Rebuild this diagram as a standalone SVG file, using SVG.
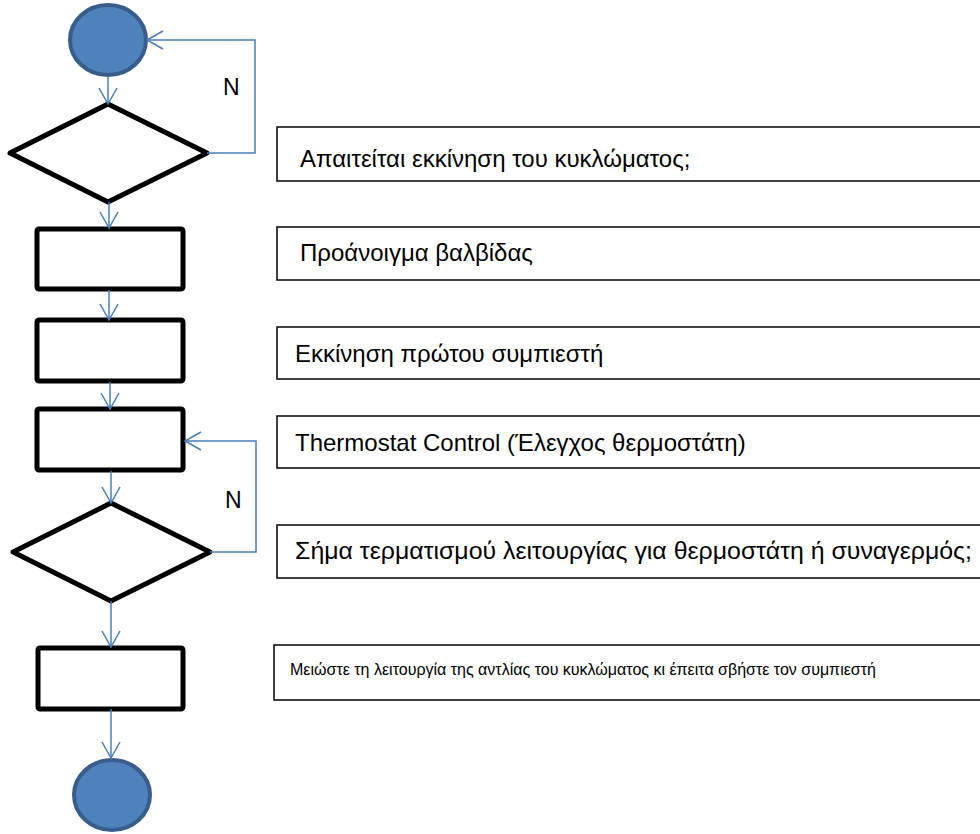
<svg xmlns="http://www.w3.org/2000/svg" width="980" height="834" viewBox="0 0 980 834">
  <style>
    .terminal { fill: #4f81bd; stroke: #385d8a; stroke-width: 4; }
    .step { fill: #ffffff; stroke: #000000; stroke-width: 5; stroke-linejoin: round; }
    .note { fill: #ffffff; stroke: #000000; stroke-width: 1.5; }
    .label { font-family: "Liberation Sans", Arial, sans-serif; fill: #000000; }
    .flow { fill: none; stroke: #4a7ebb; stroke-width: 1.5; marker-end: url(#open); }
  </style>
  <defs>
    <marker id="open" viewBox="0 0 20 20" refX="18" refY="10" markerWidth="20" markerHeight="20" markerUnits="userSpaceOnUse" orient="auto">
      <path d="M2,1 L18,10 L2,19" fill="none" stroke="#4a7ebb" stroke-width="1.5"/>
    </marker>
  </defs>

  <rect width="980" height="834" fill="#ffffff"/>

  <!-- flow column -->
  <g id="start"><ellipse class="terminal" cx="108" cy="40" rx="38" ry="35"/></g>
  <g id="decision-start"><polygon class="step" points="108,104 207,153 108,202 10,153"/></g>
  <g id="valve"><rect class="step" x="37" y="229" width="146" height="60" rx="2"/></g>
  <g id="compressor"><rect class="step" x="37" y="320" width="146" height="61" rx="2"/></g>
  <g id="thermostat"><rect class="step" x="37" y="409" width="146" height="61" rx="2"/></g>
  <g id="decision-stop"><polygon class="step" points="111,503 210,552 111,601 13,552"/></g>
  <g id="shutdown"><rect class="step" x="38" y="648" width="145" height="61" rx="2"/></g>
  <g id="end"><ellipse class="terminal" cx="112" cy="795" rx="38" ry="35"/></g>

  <!-- connectors -->
  <g id="connectors">
    <path class="flow" d="M108,76 L108,104"/>
    <path class="flow" d="M207,153 L255,153 L255,40 L147,40"/>
    <path class="flow" d="M109,202 L109,228"/>
    <path class="flow" d="M109,290 L109,320"/>
    <path class="flow" d="M110,382 L110,409"/>
    <path class="flow" d="M111,471 L111,503"/>
    <path class="flow" d="M210,552 L256,552 L256,441 L185,441"/>
    <path class="flow" d="M111,601 L111,647"/>
    <path class="flow" d="M111,709 L111,758"/>
    <text class="label" x="223" y="95" font-size="23">N</text>
    <text class="label" x="225" y="508" font-size="23">N</text>
  </g>

  <!-- descriptions -->
  <g id="note-start">
    <rect class="note" x="277" y="127" width="720" height="54"/>
    <text class="label" x="300" y="167" font-size="24">Απαιτείται εκκίνηση του κυκλώματος;</text>
  </g>
  <g id="note-valve">
    <rect class="note" x="277" y="227" width="720" height="53"/>
    <text class="label" x="300" y="261" font-size="24">Προάνοιγμα βαλβίδας</text>
  </g>
  <g id="note-compressor">
    <rect class="note" x="277" y="327" width="720" height="52"/>
    <text class="label" x="295" y="362" font-size="24">Εκκίνηση πρώτου συμπιεστή</text>
  </g>
  <g id="note-thermostat">
    <rect class="note" x="277" y="416" width="720" height="52"/>
    <text class="label" x="295" y="451" font-size="24">Thermostat Control (Έλεγχος θερμοστάτη)</text>
  </g>
  <g id="note-stop">
    <rect class="note" x="277" y="525" width="720" height="53"/>
    <text class="label" x="295" y="559" font-size="24" textLength="677" lengthAdjust="spacingAndGlyphs">Σήμα τερματισμού λειτουργίας για θερμοστάτη ή συναγερμός;</text>
  </g>
  <g id="note-shutdown">
    <rect class="note" x="274" y="645" width="720" height="55"/>
    <text class="label" x="290" y="675" font-size="16">Μειώστε τη λειτουργία της αντλίας του κυκλώματος κι έπειτα σβήστε τον συμπιεστή</text>
  </g>
</svg>
